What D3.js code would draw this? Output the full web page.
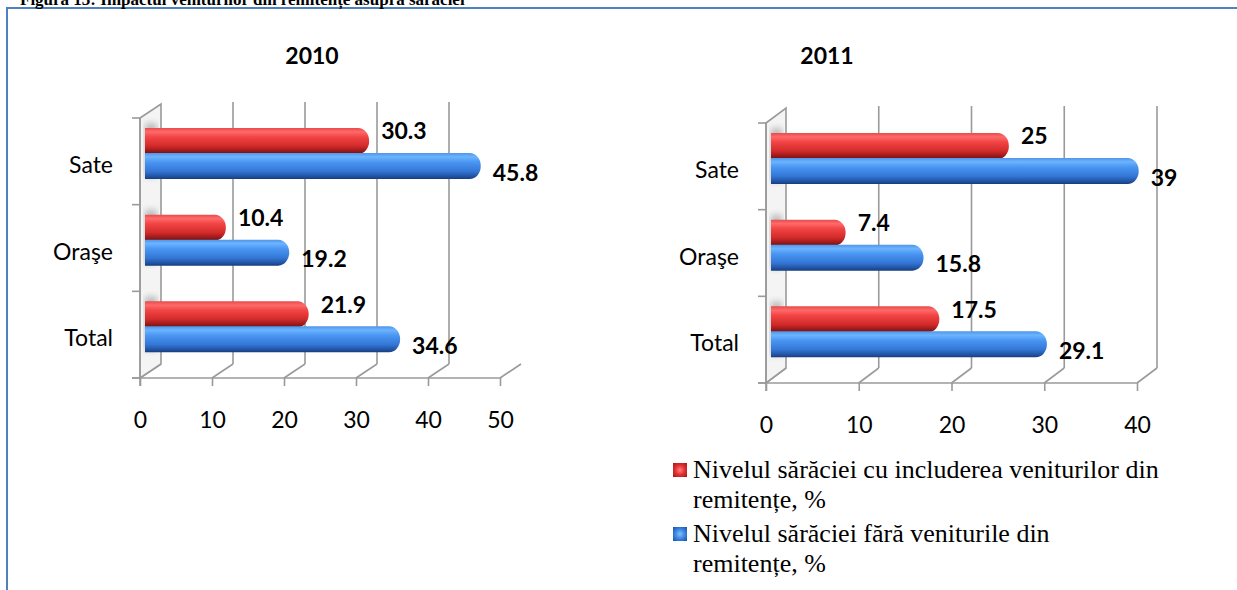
<!DOCTYPE html>
<html><head><meta charset="utf-8">
<script src="https://cdn.jsdelivr.net/npm/d3@7"></script>
<style>html,body{margin:0;padding:0;background:#fff;overflow:hidden}</style>
</head><body>
<svg id="c" width="1237" height="590"></svg>
<script>
const categories = ["Sate", "Oraşe", "Total"];
const seriesNames = ["Nivelul sărăciei cu includerea veniturilor din remitențe, %",
                     "Nivelul sărăciei fără veniturile din remitențe, %"];
const legendLines = [["Nivelul sărăciei cu includerea veniturilor din", "remitențe, %"],
                     ["Nivelul sărăciei fără veniturile din", "remitențe, %"]];
const cu2010 = [30.3, 10.4, 21.9];
const fara2010 = [45.8, 19.2, 34.6];
const cu2011 = [25, 7.4, 17.5];
const fara2011 = [39, 15.8, 29.1];
const ticks2010 = [0, 10, 20, 30, 40, 50];
const ticks2011 = [0, 10, 20, 30, 40];
const titles = ["2010", "2011"];
const headerText = "Figura 13: Impactul veniturilor din remitențe asupra sărăciei";

const svg = d3.select("#c");
const defs = svg.append("defs");

function cylGrad(id, stops) {
  const g = defs.append("linearGradient").attr("id", id).attr("x1", 0).attr("y1", 0).attr("x2", 0).attr("y2", 1);
  stops.forEach(s => g.append("stop").attr("offset", s[0]).attr("stop-color", s[1]));
}
cylGrad("gRed", [[0, "#e84a4a"], [0.15, "#ff6a6a"], [0.35, "#f24444"], [0.7, "#d22a2a"], [0.92, "#8e1616"], [1, "#6e0e0e"]]);
cylGrad("gBlue", [[0, "#4f95ea"], [0.15, "#6cb4ff"], [0.35, "#4a96f2"], [0.7, "#3477d6"], [0.92, "#1f4f9c"], [1, "#173d7c"]]);
defs.append("filter").attr("id", "blur").append("feGaussianBlur").attr("stdDeviation", 3);

function markerGrad(id, light, mid, dark) {
  const g = defs.append("radialGradient").attr("id", id).attr("cx", 0.5).attr("cy", 0.5).attr("r", 0.7);
  g.append("stop").attr("offset", 0).attr("stop-color", light);
  g.append("stop").attr("offset", 0.5).attr("stop-color", mid);
  g.append("stop").attr("offset", 1).attr("stop-color", dark);
}
markerGrad("mRed", "#ff8080", "#e03030", "#a01818");
markerGrad("mBlue", "#80c0ff", "#3a86e0", "#1d4f9a");

// frame
svg.append("rect").attr("x", 7).attr("y", 8).attr("width", 1300).attr("height", 700)
  .attr("fill", "none").attr("stroke", "#4f81bd").attr("stroke-width", 2);
svg.append("text").attr("x", 20).attr("y", 5).attr("font-family", "Liberation Serif")
  .attr("font-weight", "bold").attr("font-size", 17).attr("fill", "#000").text(headerText);

const layouts = [
  {x0: 140, x1: 500, yTop: 118, yBot: 378, dx: 21, dy: -14, titleX: 312, lastVertical: false},
  {x0: 766, x1: 1137, yTop: 123, yBot: 383, dx: 20, dy: -15, titleX: 827, lastVertical: true}
];
const chartData = [
  {cu: cu2010, fara: fara2010, ticks: ticks2010, title: titles[0]},
  {cu: cu2011, fara: fara2011, ticks: ticks2011, title: titles[1]}
];

const gridCol = "#9a9a9a";

chartData.forEach((d, ci) => {
  const L = layouts[ci];
  const g = svg.append("g");
  const x = d3.scaleLinear().domain([0, d3.max(d.ticks)]).range([L.x0, L.x1]);
  const y = d3.scaleBand().domain(categories).range([L.yTop, L.yBot]);
  const step = y.step();

  // title
  g.append("text").attr("x", L.titleX).attr("y", 64).attr("text-anchor", "middle")
    .attr("font-family", "Lato").attr("font-weight", "bold").attr("font-size", 23).text(d.title);

  // back gridlines
  d.ticks.forEach((t, i) => {
    const bx = x(t) + L.dx;
    if (i > 0 && (i < d.ticks.length - 1 || L.lastVertical)) {
      g.append("line").attr("x1", bx).attr("x2", bx).attr("y1", L.yTop + L.dy - 2).attr("y2", L.yBot + L.dy)
        .attr("stroke", gridCol).attr("stroke-width", 1.6);
    }
    g.append("line").attr("x1", x(t)).attr("y1", L.yBot).attr("x2", bx).attr("y2", L.yBot + L.dy)
      .attr("stroke", gridCol).attr("stroke-width", 1.6);
  });

  // left wall
  const wall = [[L.x0, L.yTop], [L.x0 + L.dx, L.yTop + L.dy], [L.x0 + L.dx, L.yBot + L.dy], [L.x0, L.yBot]];
  g.append("path").attr("d", "M" + wall.join("L") + "Z").attr("fill", "#f4f4f4");
  categories.forEach(c => {
    g.append("rect").attr("x", L.x0 + 5).attr("width", L.dx - 9)
      .attr("y", y(c) + step * 0.06).attr("height", step * 0.62)
      .attr("fill", "#8a8a8a").attr("opacity", 0.55).attr("filter", "url(#blur)");
  });
  g.append("path").attr("d", "M" + wall.join("L") + "Z").attr("fill", "none")
    .attr("stroke", gridCol).attr("stroke-width", 1.6);

  // axes
  const ax = g.append("g").attr("transform", `translate(0,${L.yBot})`)
    .call(d3.axisBottom(x).tickValues(d.ticks).tickSize(8).tickFormat(d3.format("d")));
  ax.select(".domain").attr("d", `M${L.x0 - 8},0H${L.x1}`).attr("stroke", gridCol).attr("stroke-width", 1.6);
  ax.selectAll(".tick line").attr("stroke", gridCol).attr("stroke-width", 1.6);
  ax.selectAll(".tick text").attr("y", 34).attr("dy", "0.71em").attr("font-family", "Lato")
    .attr("font-size", 23).attr("fill", "#000");

  const ay = g.append("g").attr("transform", `translate(${L.x0},0)`)
    .call(d3.axisLeft(y).tickSize(0).tickPadding(27));
  ay.select(".domain").remove();
  ay.selectAll(".tick text").attr("font-family", "Lato").attr("font-size", 23).attr("fill", "#000")
    .attr("dy", "0.42em").attr("transform", "translate(0,2)");
  // category ticks
  const edges = [L.yTop].concat(categories.map(c => y(c) + step));
  g.append("line").attr("x1", L.x0).attr("x2", L.x0).attr("y1", L.yTop).attr("y2", L.yBot + 8)
    .attr("stroke", gridCol).attr("stroke-width", 1.6);
  edges.forEach(e => g.append("line").attr("x1", L.x0 - 8).attr("x2", L.x0).attr("y1", e).attr("y2", e)
    .attr("stroke", gridCol).attr("stroke-width", 1.6));

  // bars
  const bh = step * 0.3;
  function barPath(xs, xe, yt, h) {
    const r = Math.min(11, (xe - xs) / 2);
    return `M${xs},${yt}H${xe - r}A${r},${h / 2} 0 0 1 ${xe - r},${yt + h}H${xs}Z`;
  }
  const series = [
    {vals: d.cu, fill: "url(#gRed)", off: step * 0.115, lab: -10},
    {vals: d.fara, fill: "url(#gBlue)", off: step * 0.115 + bh - 1, lab: 6.5}
  ];
  series.forEach(s => {
    categories.forEach((c, i) => {
      const v = s.vals[i];
      const yt = y(c) + s.off;
      const xs = x(0) + 5, xe = x(v) + 11;
      g.append("path").attr("d", barPath(xs, xe, yt, bh)).attr("fill", s.fill);
      g.append("text").attr("x", xe + 12).attr("y", yt + bh / 2 + s.lab).attr("dy", "0.36em")
        .attr("font-family", "Lato").attr("font-weight", "bold").attr("font-size", 23)
        .attr("fill", "#000").text(v);
    });
  });
});

// legend
const lg = svg.append("g");
const lfills = ["url(#mRed)", "url(#mBlue)"];
const ltops = [463, 527];
legendLines.forEach((lines, i) => {
  lg.append("rect").attr("x", 673).attr("y", ltops[i]).attr("width", 14).attr("height", 14).attr("fill", lfills[i]);
  lines.forEach((t, j) => {
    lg.append("text").attr("x", 693).attr("y", ltops[i] + 15 + j * 29.5).attr("font-family", "Liberation Serif")
      .attr("font-size", 26).attr("fill", "#000").text(t);
  });
});
</script>
</body></html>
